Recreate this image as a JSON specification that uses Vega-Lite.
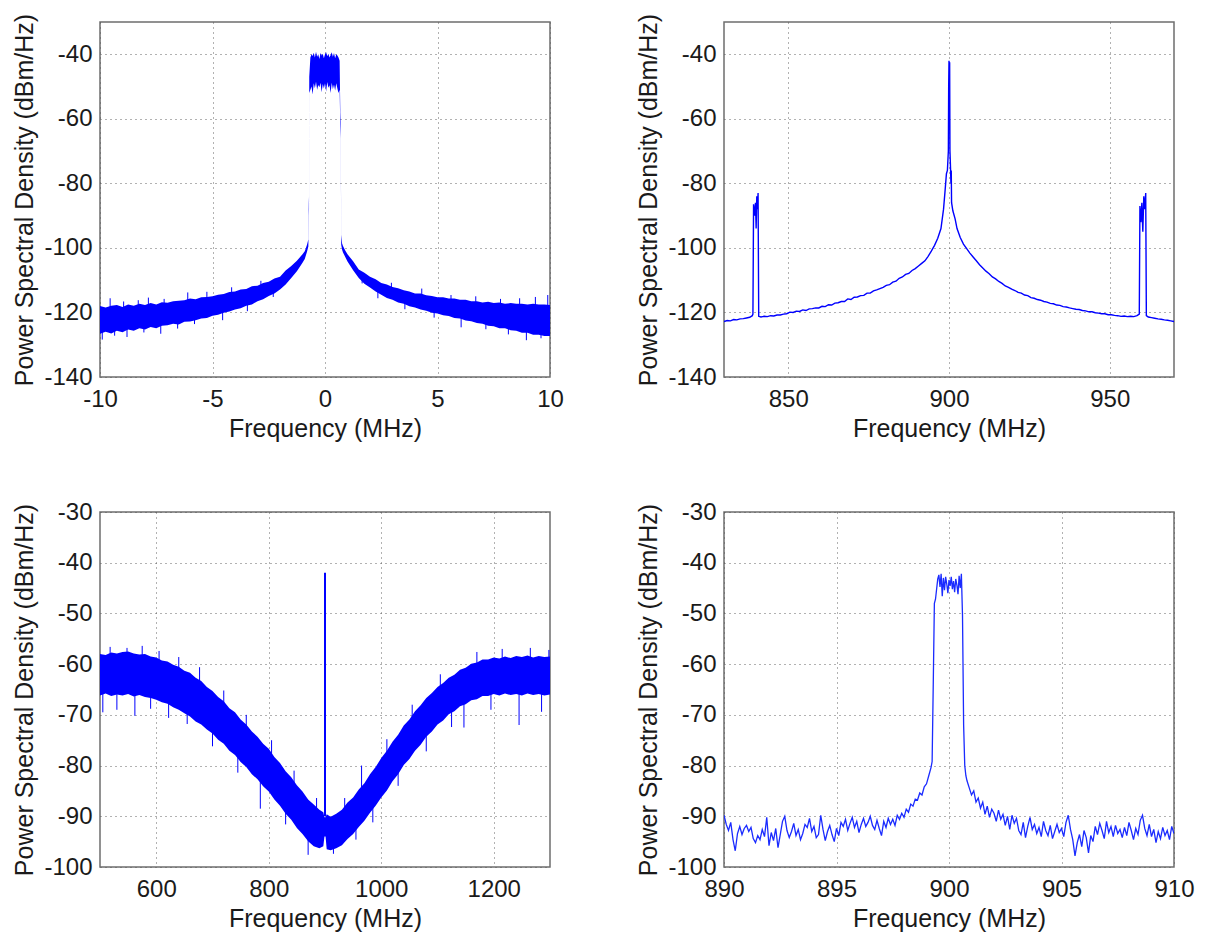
{
  "$schema": "https://vega.github.io/schema/vega-lite/v6.json",
  "background": "white",
  "padding": {"left": 12, "top": 12, "right": 0, "bottom": 0},
  "config": {
    "view": {"stroke": "#6e6e6e", "strokeWidth": 1.5},
    "axis": {
      "labelFont": "Liberation Sans", "labelFontSize": 24, "labelColor": "#1a1a1a",
      "titleFont": "Liberation Sans", "titleFontSize": 25, "titleFontWeight": "normal", "titleColor": "#1a1a1a",
      "grid": true, "gridColor": "#555555", "gridDash": [1, 4], "gridWidth": 1, "gridOpacity": 0.9,
      "domain": false, "ticks": false, "labelFlush": false, "labelOverlap": false,
      "labelExpr": "'' + datum.value"
    },
    "axisX": {"labelPadding": 10, "titlePadding": 5},
    "axisY": {"labelPadding": 8, "titlePadding": 6}
  },
  "columns": 2,
  "spacing": {"row": 135, "column": 174},
  "bounds": "flush",
  "datasets": {
    "tl": [
      {"f": -10.0, "lo": -126.6, "hi": -118.0}, {"f": -9.75, "lo": -126.0, "hi": -118.5}, {"f": -9.5, "lo": -126.5, "hi": -117.9},
      {"f": -9.25, "lo": -125.7, "hi": -117.7}, {"f": -9.0, "lo": -126.1, "hi": -118.3}, {"f": -8.75, "lo": -125.3, "hi": -117.5},
      {"f": -8.5, "lo": -125.7, "hi": -117.9}, {"f": -8.25, "lo": -124.9, "hi": -117.3}, {"f": -8.0, "lo": -125.3, "hi": -117.7},
      {"f": -7.75, "lo": -124.5, "hi": -117.1}, {"f": -7.5, "lo": -124.9, "hi": -117.5}, {"f": -7.25, "lo": -124.1, "hi": -116.8},
      {"f": -7.0, "lo": -124.0, "hi": -117.0}, {"f": -6.75, "lo": -123.5, "hi": -116.5}, {"f": -6.5, "lo": -123.7, "hi": -116.4},
      {"f": -6.25, "lo": -122.9, "hi": -116.2}, {"f": -6.0, "lo": -122.8, "hi": -115.7}, {"f": -5.75, "lo": -122.4, "hi": -115.9},
      {"f": -5.5, "lo": -121.9, "hi": -115.3}, {"f": -5.25, "lo": -121.7, "hi": -115.2}, {"f": -5.0, "lo": -121.0, "hi": -115.0},
      {"f": -4.75, "lo": -120.7, "hi": -114.5}, {"f": -4.5, "lo": -120.1, "hi": -114.3}, {"f": -4.25, "lo": -119.7, "hi": -113.7},
      {"f": -4.0, "lo": -119.1, "hi": -113.5}, {"f": -3.75, "lo": -118.7, "hi": -112.9}, {"f": -3.5, "lo": -117.9, "hi": -112.7},
      {"f": -3.25, "lo": -117.5, "hi": -111.9}, {"f": -3.0, "lo": -116.5, "hi": -111.7}, {"f": -2.75, "lo": -115.9, "hi": -110.9},
      {"f": -2.5, "lo": -114.9, "hi": -110.5}, {"f": -2.25, "lo": -114.1, "hi": -109.5}, {"f": -2.0, "lo": -112.9, "hi": -108.9},
      {"f": -1.75, "lo": -111.3, "hi": -107.0}, {"f": -1.5, "lo": -109.3, "hi": -105.6}, {"f": -1.25, "lo": -107.2, "hi": -104.0},
      {"f": -1.0, "lo": -104.6, "hi": -102.0}, {"f": -0.9, "lo": -103.4, "hi": -101.0}, {"f": -0.8, "lo": -101.2, "hi": -99.0},
      {"f": -0.74, "lo": -99.6, "hi": -97.4}, {"f": -0.72, "lo": -90.0, "hi": -86.0}, {"f": -0.71, "lo": -88.0, "hi": -84.0},
      {"f": -0.7, "lo": -52.0, "hi": -47.0}, {"f": -0.65, "lo": -51.0, "hi": -41.0}, {"f": -0.6, "lo": -50.0, "hi": -40.0},
      {"f": -0.55, "lo": -52.5, "hi": -40.5}, {"f": -0.5, "lo": -49.0, "hi": -39.5}, {"f": -0.45, "lo": -50.5, "hi": -41.0},
      {"f": -0.4, "lo": -48.5, "hi": -39.2}, {"f": -0.35, "lo": -51.0, "hi": -40.8}, {"f": -0.3, "lo": -49.5, "hi": -40.0},
      {"f": -0.25, "lo": -50.2, "hi": -41.5}, {"f": -0.2, "lo": -48.8, "hi": -39.6}, {"f": -0.15, "lo": -51.8, "hi": -40.4},
      {"f": -0.1, "lo": -49.2, "hi": -39.8}, {"f": -0.05, "lo": -50.6, "hi": -41.2}, {"f": 0.0, "lo": -49.0, "hi": -40.0},
      {"f": 0.05, "lo": -51.5, "hi": -39.4}, {"f": 0.1, "lo": -48.6, "hi": -40.6}, {"f": 0.15, "lo": -50.4, "hi": -39.8},
      {"f": 0.2, "lo": -49.6, "hi": -41.0}, {"f": 0.25, "lo": -52.0, "hi": -40.2}, {"f": 0.3, "lo": -48.8, "hi": -39.4},
      {"f": 0.35, "lo": -50.8, "hi": -40.8}, {"f": 0.4, "lo": -49.4, "hi": -39.6}, {"f": 0.45, "lo": -51.2, "hi": -41.2},
      {"f": 0.5, "lo": -49.0, "hi": -40.0}, {"f": 0.55, "lo": -50.6, "hi": -40.4}, {"f": 0.6, "lo": -52.0, "hi": -41.0},
      {"f": 0.65, "lo": -51.0, "hi": -42.0}, {"f": 0.68, "lo": -62.0, "hi": -58.0}, {"f": 0.7, "lo": -66.0, "hi": -61.0},
      {"f": 0.72, "lo": -99.0, "hi": -96.0}, {"f": 0.76, "lo": -100.6, "hi": -98.6}, {"f": 0.8, "lo": -101.4, "hi": -99.4},
      {"f": 0.9, "lo": -102.8, "hi": -100.8}, {"f": 1.0, "lo": -104.2, "hi": -102.0}, {"f": 1.25, "lo": -106.9, "hi": -104.1},
      {"f": 1.5, "lo": -109.3, "hi": -106.7}, {"f": 1.75, "lo": -111.1, "hi": -107.7}, {"f": 2.0, "lo": -112.3, "hi": -108.9},
      {"f": 2.25, "lo": -113.5, "hi": -109.7}, {"f": 2.5, "lo": -114.5, "hi": -110.9}, {"f": 2.75, "lo": -115.5, "hi": -111.3},
      {"f": 3.0, "lo": -116.1, "hi": -112.1}, {"f": 3.25, "lo": -116.9, "hi": -112.5}, {"f": 3.5, "lo": -117.3, "hi": -113.1},
      {"f": 3.75, "lo": -118.1, "hi": -113.5}, {"f": 4.0, "lo": -118.5, "hi": -114.1}, {"f": 4.25, "lo": -119.1, "hi": -114.1},
      {"f": 4.5, "lo": -119.5, "hi": -114.7}, {"f": 4.75, "lo": -120.1, "hi": -114.9}, {"f": 5.0, "lo": -120.3, "hi": -115.3},
      {"f": 5.25, "lo": -120.9, "hi": -115.3}, {"f": 5.5, "lo": -121.1, "hi": -115.7}, {"f": 5.75, "lo": -121.7, "hi": -115.7},
      {"f": 6.0, "lo": -121.9, "hi": -116.1}, {"f": 6.25, "lo": -122.5, "hi": -116.1}, {"f": 6.5, "lo": -122.7, "hi": -116.5},
      {"f": 6.75, "lo": -123.3, "hi": -116.5}, {"f": 7.0, "lo": -123.5, "hi": -116.9}, {"f": 7.25, "lo": -124.1, "hi": -116.7},
      {"f": 7.5, "lo": -124.3, "hi": -117.1}, {"f": 7.75, "lo": -124.9, "hi": -116.9}, {"f": 8.0, "lo": -124.9, "hi": -117.3},
      {"f": 8.25, "lo": -125.5, "hi": -117.1}, {"f": 8.5, "lo": -125.7, "hi": -117.3}, {"f": 8.75, "lo": -126.3, "hi": -117.3},
      {"f": 9.0, "lo": -126.3, "hi": -117.5}, {"f": 9.25, "lo": -126.9, "hi": -117.3}, {"f": 9.5, "lo": -126.9, "hi": -117.5},
      {"f": 9.75, "lo": -127.3, "hi": -117.5}, {"f": 10.0, "lo": -127.3, "hi": -117.7}
    ],
    "tlspk": [
      {"f": -9.9, "a": -124, "b": -128.4}, {"f": -9.55, "a": -120, "b": -115.6}, {"f": -9.35, "a": -124, "b": -127.2},
      {"f": -8.95, "a": -120, "b": -116.6}, {"f": -8.8, "a": -123, "b": -127.6}, {"f": -8.3, "a": -120, "b": -116.2},
      {"f": -8.05, "a": -123, "b": -126.2}, {"f": -7.85, "a": -120, "b": -115.4}, {"f": -7.3, "a": -122, "b": -126.6},
      {"f": -7.15, "a": -119, "b": -115.8}, {"f": -6.55, "a": -121, "b": -125.0}, {"f": -6.1, "a": -118, "b": -113.8},
      {"f": -5.8, "a": -120, "b": -123.6}, {"f": -5.25, "a": -117, "b": -113.6}, {"f": -4.55, "a": -119, "b": -122.4},
      {"f": -4.15, "a": -116, "b": -112.2}, {"f": -3.45, "a": -116, "b": -119.6}, {"f": -2.85, "a": -114, "b": -110.2},
      {"f": -2.3, "a": -112, "b": -115.2}, {"f": 1.65, "a": -108, "b": -111.0}, {"f": 2.35, "a": -111, "b": -115.6},
      {"f": 2.95, "a": -113, "b": -110.8}, {"f": 3.55, "a": -115, "b": -119.0}, {"f": 4.3, "a": -116, "b": -112.6},
      {"f": 4.85, "a": -118, "b": -121.6}, {"f": 5.6, "a": -118, "b": -114.6}, {"f": 6.05, "a": -120, "b": -124.6},
      {"f": 6.7, "a": -119, "b": -115.0}, {"f": 7.15, "a": -121, "b": -125.2}, {"f": 7.8, "a": -120, "b": -115.8},
      {"f": 8.15, "a": -122, "b": -126.8}, {"f": 8.65, "a": -121, "b": -115.6}, {"f": 8.95, "a": -123, "b": -128.6},
      {"f": 9.35, "a": -121, "b": -115.2}, {"f": 9.6, "a": -124, "b": -128.0}, {"f": 9.9, "a": -121, "b": -114.6}
    ],
    "tr": [
      {"f": 830, "v": -122.8}, {"f": 831, "v": -122.5}, {"f": 832, "v": -122.6}, {"f": 833, "v": -122.2}, {"f": 834, "v": -122.3},
      {"f": 835, "v": -122.0}, {"f": 836, "v": -121.9}, {"f": 837, "v": -121.7}, {"f": 838, "v": -121.5}, {"f": 838.8, "v": -121.0},
      {"f": 839.0, "v": -120.5}, {"f": 839.2, "v": -86.5}, {"f": 839.5, "v": -90}, {"f": 839.8, "v": -86}, {"f": 840.0, "v": -94},
      {"f": 840.2, "v": -84}, {"f": 840.4, "v": -88}, {"f": 840.6, "v": -83}, {"f": 840.8, "v": -121.2}, {"f": 841.5, "v": -121.4},
      {"f": 842.5, "v": -121.2}, {"f": 843.5, "v": -121.3}, {"f": 844.5, "v": -121.0}, {"f": 845.5, "v": -121.1}, {"f": 846.5, "v": -120.8},
      {"f": 847.5, "v": -120.8}, {"f": 848.5, "v": -120.5}, {"f": 849.5, "v": -120.4}, {"f": 850.5, "v": -119.9}, {"f": 851.5, "v": -120.0},
      {"f": 852.5, "v": -119.6}, {"f": 853.5, "v": -119.7}, {"f": 854.5, "v": -119.2}, {"f": 855.5, "v": -119.4}, {"f": 856.5, "v": -118.9},
      {"f": 857.5, "v": -118.8}, {"f": 858.5, "v": -118.6}, {"f": 859.5, "v": -118.6}, {"f": 860.5, "v": -118.1}, {"f": 861.5, "v": -118.2},
      {"f": 862.5, "v": -117.6}, {"f": 863.5, "v": -117.7}, {"f": 864.5, "v": -117.1}, {"f": 865.5, "v": -117.0}, {"f": 866.5, "v": -116.6},
      {"f": 867.5, "v": -116.6}, {"f": 868.5, "v": -115.8}, {"f": 869.5, "v": -116.0}, {"f": 870.5, "v": -115.3}, {"f": 871.5, "v": -115.2},
      {"f": 872.5, "v": -114.8}, {"f": 873.5, "v": -114.7}, {"f": 874.5, "v": -114.0}, {"f": 875.5, "v": -114.0}, {"f": 876.5, "v": -113.3},
      {"f": 877.5, "v": -113.0}, {"f": 878.5, "v": -112.6}, {"f": 879.5, "v": -112.2}, {"f": 880.5, "v": -111.6}, {"f": 881.5, "v": -111.4},
      {"f": 882.5, "v": -110.6}, {"f": 883.5, "v": -110.3}, {"f": 884.5, "v": -109.4}, {"f": 885.5, "v": -109.0}, {"f": 886.5, "v": -108.2},
      {"f": 887.5, "v": -107.9}, {"f": 888.5, "v": -107.0}, {"f": 889.5, "v": -106.4}, {"f": 890.5, "v": -105.6}, {"f": 891.5, "v": -104.8},
      {"f": 892.5, "v": -104.0}, {"f": 893.5, "v": -102.6}, {"f": 894.5, "v": -101.0}, {"f": 895.5, "v": -99.2}, {"f": 896.5, "v": -97.0},
      {"f": 897.5, "v": -94.0}, {"f": 898.3, "v": -88.0}, {"f": 898.8, "v": -82.0}, {"f": 899.2, "v": -77.0}, {"f": 899.5, "v": -76.0},
      {"f": 899.8, "v": -70}, {"f": 899.9, "v": -50}, {"f": 900.0, "v": -42}, {"f": 900.1, "v": -46}, {"f": 900.2, "v": -42.5},
      {"f": 900.3, "v": -70}, {"f": 900.5, "v": -76}, {"f": 900.6, "v": -80}, {"f": 900.7, "v": -76}, {"f": 900.8, "v": -86},
      {"f": 901.2, "v": -88.5}, {"f": 901.9, "v": -91}, {"f": 902.5, "v": -94.0}, {"f": 903.5, "v": -96.8}, {"f": 904.5, "v": -98.8},
      {"f": 905.5, "v": -100.2}, {"f": 906.5, "v": -101.6}, {"f": 907.5, "v": -102.8}, {"f": 908.5, "v": -104.0}, {"f": 909.5, "v": -105.2},
      {"f": 910.5, "v": -106.2}, {"f": 911.5, "v": -107.2}, {"f": 912.5, "v": -108.0}, {"f": 913.5, "v": -109.0}, {"f": 914.5, "v": -109.6},
      {"f": 915.5, "v": -110.4}, {"f": 916.5, "v": -111.0}, {"f": 917.5, "v": -111.8}, {"f": 918.5, "v": -112.2}, {"f": 919.5, "v": -112.8},
      {"f": 920.5, "v": -113.2}, {"f": 921.5, "v": -113.8}, {"f": 922.5, "v": -114.0}, {"f": 923.5, "v": -114.6}, {"f": 924.5, "v": -114.8},
      {"f": 925.5, "v": -115.4}, {"f": 926.5, "v": -115.6}, {"f": 927.5, "v": -116.0}, {"f": 928.5, "v": -116.2}, {"f": 929.5, "v": -116.6},
      {"f": 930.5, "v": -116.8}, {"f": 931.5, "v": -117.2}, {"f": 932.5, "v": -117.3}, {"f": 933.5, "v": -117.7}, {"f": 934.5, "v": -117.8},
      {"f": 935.5, "v": -118.2}, {"f": 936.5, "v": -118.3}, {"f": 937.5, "v": -118.6}, {"f": 938.5, "v": -118.8}, {"f": 939.5, "v": -119.0},
      {"f": 940.5, "v": -119.1}, {"f": 941.5, "v": -119.4}, {"f": 942.5, "v": -119.5}, {"f": 943.5, "v": -119.8}, {"f": 944.5, "v": -119.8},
      {"f": 945.5, "v": -120.1}, {"f": 946.5, "v": -120.2}, {"f": 947.5, "v": -120.4}, {"f": 948.5, "v": -120.4}, {"f": 949.5, "v": -120.7},
      {"f": 950.5, "v": -120.7}, {"f": 951.5, "v": -120.9}, {"f": 952.5, "v": -121.0}, {"f": 953.5, "v": -121.2}, {"f": 954.5, "v": -121.1},
      {"f": 955.5, "v": -121.3}, {"f": 956.5, "v": -121.2}, {"f": 957.5, "v": -121.3}, {"f": 958.5, "v": -121.0}, {"f": 959.2, "v": -120.5},
      {"f": 959.4, "v": -87}, {"f": 959.7, "v": -92}, {"f": 960.0, "v": -86}, {"f": 960.3, "v": -95}, {"f": 960.6, "v": -84},
      {"f": 960.9, "v": -88}, {"f": 961.2, "v": -83}, {"f": 961.4, "v": -121.0}, {"f": 962, "v": -121.4}, {"f": 963, "v": -121.6},
      {"f": 964, "v": -121.8}, {"f": 965, "v": -122.0}, {"f": 966, "v": -122.1}, {"f": 967, "v": -122.3}, {"f": 968, "v": -122.4},
      {"f": 969, "v": -122.6}, {"f": 970, "v": -122.8}
    ],
    "bl": [
      {"f": 500, "lo": -66.2, "hi": -58.0}, {"f": 510, "lo": -65.8, "hi": -58.2}, {"f": 520, "lo": -66.3, "hi": -57.7},
      {"f": 530, "lo": -66.0, "hi": -57.9}, {"f": 540, "lo": -66.2, "hi": -57.6}, {"f": 550, "lo": -65.9, "hi": -57.5},
      {"f": 560, "lo": -66.4, "hi": -57.9}, {"f": 570, "lo": -66.1, "hi": -58.1}, {"f": 580, "lo": -66.5, "hi": -58.0},
      {"f": 590, "lo": -66.7, "hi": -58.5}, {"f": 600, "lo": -67.0, "hi": -58.7}, {"f": 610, "lo": -67.5, "hi": -59.3},
      {"f": 620, "lo": -67.8, "hi": -59.5}, {"f": 630, "lo": -68.5, "hi": -60.1}, {"f": 640, "lo": -69.0, "hi": -60.5},
      {"f": 650, "lo": -69.7, "hi": -61.3}, {"f": 660, "lo": -70.3, "hi": -61.7}, {"f": 670, "lo": -71.3, "hi": -62.7},
      {"f": 680, "lo": -71.9, "hi": -63.3}, {"f": 690, "lo": -72.9, "hi": -64.5}, {"f": 700, "lo": -73.7, "hi": -65.3},
      {"f": 710, "lo": -74.9, "hi": -66.5}, {"f": 720, "lo": -75.7, "hi": -67.3}, {"f": 730, "lo": -77.1, "hi": -68.7},
      {"f": 740, "lo": -77.9, "hi": -69.5}, {"f": 750, "lo": -79.3, "hi": -70.9}, {"f": 760, "lo": -80.3, "hi": -71.9},
      {"f": 770, "lo": -81.7, "hi": -73.3}, {"f": 780, "lo": -82.7, "hi": -74.3}, {"f": 790, "lo": -84.1, "hi": -75.7},
      {"f": 800, "lo": -85.1, "hi": -76.7}, {"f": 810, "lo": -86.7, "hi": -78.3}, {"f": 820, "lo": -87.9, "hi": -79.5},
      {"f": 830, "lo": -89.5, "hi": -81.1}, {"f": 840, "lo": -90.7, "hi": -82.3}, {"f": 850, "lo": -92.3, "hi": -83.9},
      {"f": 860, "lo": -93.5, "hi": -85.1}, {"f": 870, "lo": -94.9, "hi": -86.7}, {"f": 880, "lo": -95.9, "hi": -87.7},
      {"f": 890, "lo": -96.3, "hi": -88.7}, {"f": 897, "lo": -95.9, "hi": -89.2}, {"f": 899, "lo": -94.0, "hi": -90.2},
      {"f": 901, "lo": -94.0, "hi": -90.2}, {"f": 903, "lo": -96.5, "hi": -89.6}, {"f": 910, "lo": -96.7, "hi": -90.1},
      {"f": 920, "lo": -96.3, "hi": -89.5}, {"f": 930, "lo": -95.7, "hi": -88.7}, {"f": 940, "lo": -94.5, "hi": -87.3},
      {"f": 950, "lo": -93.5, "hi": -86.3}, {"f": 960, "lo": -92.1, "hi": -84.7}, {"f": 970, "lo": -90.9, "hi": -83.5},
      {"f": 980, "lo": -89.3, "hi": -81.7}, {"f": 990, "lo": -87.9, "hi": -80.3}, {"f": 1000, "lo": -86.3, "hi": -78.5},
      {"f": 1010, "lo": -84.9, "hi": -77.1}, {"f": 1020, "lo": -83.1, "hi": -75.3}, {"f": 1030, "lo": -81.7, "hi": -73.9},
      {"f": 1040, "lo": -79.9, "hi": -72.1}, {"f": 1050, "lo": -78.7, "hi": -70.9}, {"f": 1060, "lo": -77.1, "hi": -69.3},
      {"f": 1070, "lo": -75.9, "hi": -68.1}, {"f": 1080, "lo": -74.3, "hi": -66.7}, {"f": 1090, "lo": -73.3, "hi": -65.7},
      {"f": 1100, "lo": -71.9, "hi": -64.5}, {"f": 1110, "lo": -71.1, "hi": -63.7}, {"f": 1120, "lo": -69.9, "hi": -62.7},
      {"f": 1130, "lo": -69.3, "hi": -62.1}, {"f": 1140, "lo": -68.3, "hi": -61.1}, {"f": 1150, "lo": -67.9, "hi": -60.7},
      {"f": 1160, "lo": -67.1, "hi": -59.9}, {"f": 1170, "lo": -66.9, "hi": -59.7}, {"f": 1180, "lo": -66.3, "hi": -59.1},
      {"f": 1190, "lo": -66.3, "hi": -59.1}, {"f": 1200, "lo": -65.9, "hi": -58.7}, {"f": 1210, "lo": -66.2, "hi": -58.9},
      {"f": 1220, "lo": -65.8, "hi": -58.5}, {"f": 1230, "lo": -66.1, "hi": -58.8}, {"f": 1240, "lo": -65.9, "hi": -58.4},
      {"f": 1250, "lo": -66.2, "hi": -58.6}, {"f": 1260, "lo": -65.8, "hi": -58.3}, {"f": 1270, "lo": -66.1, "hi": -58.7},
      {"f": 1280, "lo": -65.9, "hi": -58.4}, {"f": 1290, "lo": -66.2, "hi": -58.6}, {"f": 1300, "lo": -66.0, "hi": -58.5}
    ],
    "blspk": [
      {"f": 505, "a": -63, "b": -69.5}, {"f": 518, "a": -60, "b": -56.6}, {"f": 530, "a": -64, "b": -69.0},
      {"f": 548, "a": -60, "b": -56.8}, {"f": 562, "a": -64, "b": -70.2}, {"f": 575, "a": -60, "b": -56.4},
      {"f": 590, "a": -64, "b": -68.8}, {"f": 605, "a": -61, "b": -57.4}, {"f": 622, "a": -65, "b": -70.6},
      {"f": 640, "a": -62, "b": -58.6}, {"f": 655, "a": -67, "b": -71.8}, {"f": 677, "a": -64, "b": -60.6},
      {"f": 700, "a": -71, "b": -76.2}, {"f": 720, "a": -69, "b": -65.2}, {"f": 745, "a": -76, "b": -81.4},
      {"f": 760, "a": -74, "b": -70.0}, {"f": 785, "a": -80, "b": -88.5}, {"f": 805, "a": -79, "b": -75.0},
      {"f": 830, "a": -87, "b": -91.6}, {"f": 845, "a": -86, "b": -81.0}, {"f": 870, "a": -92, "b": -97.6},
      {"f": 885, "a": -90, "b": -86.4}, {"f": 915, "a": -93, "b": -97.4}, {"f": 935, "a": -91, "b": -86.4},
      {"f": 955, "a": -90, "b": -94.6}, {"f": 965, "a": -87, "b": -80.0}, {"f": 985, "a": -87, "b": -91.2},
      {"f": 1010, "a": -79, "b": -74.8}, {"f": 1030, "a": -79, "b": -84.0}, {"f": 1055, "a": -72, "b": -68.0},
      {"f": 1080, "a": -72, "b": -77.2}, {"f": 1105, "a": -66, "b": -62.0}, {"f": 1125, "a": -68, "b": -72.4},
      {"f": 1147, "a": -64, "b": -72.5}, {"f": 1170, "a": -62, "b": -57.6}, {"f": 1195, "a": -64, "b": -69.0},
      {"f": 1215, "a": -61, "b": -57.0}, {"f": 1245, "a": -64, "b": -72.0}, {"f": 1265, "a": -61, "b": -56.8},
      {"f": 1285, "a": -64, "b": -69.4}, {"f": 1298, "a": -61, "b": -57.2}
    ],
    "blmain": [
      {"f": 900, "a": -90, "b": -42}
    ],
    "br": [
      {"f": 890.0, "v": -89.8}, {"f": 890.1, "v": -91.6}, {"f": 890.2, "v": -92.8}, {"f": 890.3, "v": -91.2}, {"f": 890.4, "v": -94.6},
      {"f": 890.5, "v": -96.8}, {"f": 890.6, "v": -93.4}, {"f": 890.7, "v": -92.0}, {"f": 890.8, "v": -93.6}, {"f": 890.9, "v": -92.4},
      {"f": 891.0, "v": -91.8}, {"f": 891.1, "v": -93.0}, {"f": 891.2, "v": -92.2}, {"f": 891.3, "v": -94.4}, {"f": 891.4, "v": -95.2},
      {"f": 891.5, "v": -93.8}, {"f": 891.6, "v": -94.6}, {"f": 891.7, "v": -92.6}, {"f": 891.8, "v": -94.0}, {"f": 891.9, "v": -90.2},
      {"f": 892.0, "v": -95.8}, {"f": 892.1, "v": -93.2}, {"f": 892.2, "v": -94.8}, {"f": 892.3, "v": -92.4}, {"f": 892.4, "v": -96.2},
      {"f": 892.5, "v": -93.6}, {"f": 892.6, "v": -91.0}, {"f": 892.7, "v": -90.0}, {"f": 892.8, "v": -92.8}, {"f": 892.9, "v": -94.2},
      {"f": 893.0, "v": -93.0}, {"f": 893.1, "v": -91.4}, {"f": 893.2, "v": -93.8}, {"f": 893.3, "v": -92.6}, {"f": 893.4, "v": -94.6},
      {"f": 893.5, "v": -93.4}, {"f": 893.6, "v": -91.6}, {"f": 893.7, "v": -92.2}, {"f": 893.8, "v": -90.4}, {"f": 893.9, "v": -93.0},
      {"f": 894.0, "v": -92.0}, {"f": 894.1, "v": -94.2}, {"f": 894.2, "v": -93.6}, {"f": 894.3, "v": -89.8}, {"f": 894.4, "v": -92.6},
      {"f": 894.5, "v": -94.8}, {"f": 894.6, "v": -93.0}, {"f": 894.7, "v": -91.8}, {"f": 894.8, "v": -93.6}, {"f": 894.9, "v": -95.0},
      {"f": 895.0, "v": -92.4}, {"f": 895.1, "v": -93.8}, {"f": 895.2, "v": -91.2}, {"f": 895.3, "v": -92.0}, {"f": 895.4, "v": -90.6},
      {"f": 895.5, "v": -92.8}, {"f": 895.6, "v": -91.4}, {"f": 895.7, "v": -90.2}, {"f": 895.8, "v": -92.2}, {"f": 895.9, "v": -91.0},
      {"f": 896.0, "v": -93.2}, {"f": 896.1, "v": -91.6}, {"f": 896.2, "v": -90.4}, {"f": 896.3, "v": -92.0}, {"f": 896.4, "v": -91.2},
      {"f": 896.5, "v": -90.0}, {"f": 896.6, "v": -91.8}, {"f": 896.7, "v": -92.6}, {"f": 896.8, "v": -90.8}, {"f": 896.9, "v": -92.4},
      {"f": 897.0, "v": -93.8}, {"f": 897.1, "v": -91.0}, {"f": 897.2, "v": -92.2}, {"f": 897.3, "v": -90.4}, {"f": 897.4, "v": -91.6},
      {"f": 897.5, "v": -90.6}, {"f": 897.6, "v": -91.8}, {"f": 897.7, "v": -89.8}, {"f": 897.8, "v": -90.6}, {"f": 897.9, "v": -89.4},
      {"f": 898.0, "v": -90.2}, {"f": 898.1, "v": -88.6}, {"f": 898.2, "v": -89.2}, {"f": 898.3, "v": -87.6}, {"f": 898.4, "v": -88.0},
      {"f": 898.5, "v": -86.6}, {"f": 898.6, "v": -86.8}, {"f": 898.7, "v": -85.4}, {"f": 898.8, "v": -85.8}, {"f": 898.9, "v": -84.2},
      {"f": 899.0, "v": -83.6}, {"f": 899.1, "v": -82.0}, {"f": 899.2, "v": -80.4}, {"f": 899.25, "v": -79.2}, {"f": 899.3, "v": -64.0},
      {"f": 899.35, "v": -48.0}, {"f": 899.4, "v": -47.2}, {"f": 899.5, "v": -43.2}, {"f": 899.55, "v": -42.4}, {"f": 899.6, "v": -44.8},
      {"f": 899.65, "v": -42.2}, {"f": 899.7, "v": -46.6}, {"f": 899.75, "v": -43.0}, {"f": 899.8, "v": -45.4}, {"f": 899.85, "v": -42.8},
      {"f": 899.9, "v": -44.2}, {"f": 899.95, "v": -46.0}, {"f": 900.0, "v": -43.4}, {"f": 900.05, "v": -44.6}, {"f": 900.1, "v": -42.8},
      {"f": 900.15, "v": -45.2}, {"f": 900.2, "v": -43.6}, {"f": 900.25, "v": -45.8}, {"f": 900.3, "v": -43.2}, {"f": 900.35, "v": -44.4},
      {"f": 900.4, "v": -46.2}, {"f": 900.45, "v": -42.6}, {"f": 900.5, "v": -45.0}, {"f": 900.55, "v": -42.2}, {"f": 900.6, "v": -50.4},
      {"f": 900.65, "v": -72.0}, {"f": 900.7, "v": -80.0}, {"f": 900.75, "v": -82.0}, {"f": 900.8, "v": -83.0}, {"f": 900.9, "v": -84.4},
      {"f": 901.0, "v": -85.8}, {"f": 901.1, "v": -85.0}, {"f": 901.2, "v": -87.2}, {"f": 901.3, "v": -86.4}, {"f": 901.4, "v": -88.4},
      {"f": 901.5, "v": -87.2}, {"f": 901.6, "v": -89.6}, {"f": 901.7, "v": -88.0}, {"f": 901.8, "v": -90.2}, {"f": 901.9, "v": -88.6},
      {"f": 902.0, "v": -89.4}, {"f": 902.1, "v": -91.0}, {"f": 902.2, "v": -88.8}, {"f": 902.3, "v": -90.6}, {"f": 902.4, "v": -89.6},
      {"f": 902.5, "v": -91.8}, {"f": 902.6, "v": -90.0}, {"f": 902.7, "v": -92.6}, {"f": 902.8, "v": -89.8}, {"f": 902.9, "v": -91.4},
      {"f": 903.0, "v": -90.4}, {"f": 903.1, "v": -92.8}, {"f": 903.2, "v": -93.6}, {"f": 903.3, "v": -91.2}, {"f": 903.4, "v": -94.2},
      {"f": 903.5, "v": -92.0}, {"f": 903.6, "v": -90.2}, {"f": 903.7, "v": -92.6}, {"f": 903.8, "v": -91.6}, {"f": 903.9, "v": -93.4},
      {"f": 904.0, "v": -92.2}, {"f": 904.1, "v": -94.0}, {"f": 904.2, "v": -91.0}, {"f": 904.3, "v": -92.8}, {"f": 904.4, "v": -93.8},
      {"f": 904.5, "v": -91.8}, {"f": 904.6, "v": -94.4}, {"f": 904.7, "v": -93.0}, {"f": 904.8, "v": -91.6}, {"f": 904.9, "v": -93.2},
      {"f": 905.0, "v": -92.4}, {"f": 905.1, "v": -94.0}, {"f": 905.2, "v": -91.2}, {"f": 905.3, "v": -89.8}, {"f": 905.4, "v": -92.6},
      {"f": 905.5, "v": -94.6}, {"f": 905.6, "v": -97.8}, {"f": 905.7, "v": -95.2}, {"f": 905.8, "v": -93.6}, {"f": 905.9, "v": -96.0},
      {"f": 906.0, "v": -92.8}, {"f": 906.1, "v": -94.2}, {"f": 906.2, "v": -97.2}, {"f": 906.3, "v": -93.8}, {"f": 906.4, "v": -95.0},
      {"f": 906.5, "v": -92.0}, {"f": 906.6, "v": -93.6}, {"f": 906.7, "v": -91.4}, {"f": 906.8, "v": -92.8}, {"f": 906.9, "v": -94.4},
      {"f": 907.0, "v": -91.0}, {"f": 907.1, "v": -93.2}, {"f": 907.2, "v": -92.0}, {"f": 907.3, "v": -94.0}, {"f": 907.4, "v": -91.8},
      {"f": 907.5, "v": -93.4}, {"f": 907.6, "v": -92.6}, {"f": 907.7, "v": -94.2}, {"f": 907.8, "v": -92.2}, {"f": 907.9, "v": -93.8},
      {"f": 908.0, "v": -91.2}, {"f": 908.1, "v": -92.8}, {"f": 908.2, "v": -94.6}, {"f": 908.3, "v": -92.4}, {"f": 908.4, "v": -93.6},
      {"f": 908.5, "v": -90.8}, {"f": 908.6, "v": -89.8}, {"f": 908.7, "v": -92.4}, {"f": 908.8, "v": -93.8}, {"f": 908.9, "v": -91.6},
      {"f": 909.0, "v": -94.0}, {"f": 909.1, "v": -92.6}, {"f": 909.2, "v": -95.2}, {"f": 909.3, "v": -93.0}, {"f": 909.4, "v": -94.4},
      {"f": 909.5, "v": -92.2}, {"f": 909.6, "v": -93.8}, {"f": 909.7, "v": -92.8}, {"f": 909.8, "v": -94.6}, {"f": 909.9, "v": -92.0},
      {"f": 910.0, "v": -93.4}
    ]
  },
  "concat": [
    {
      "width": 450, "height": 355,
      "layer": [
        {
          "data": {"name": "tl"},
          "mark": {"type": "area", "color": "#0000ff", "clip": true},
          "encoding": {
            "x": {"field": "f", "type": "quantitative", "scale": {"domain": [-10, 10], "nice": false, "zero": false},
                  "axis": {"values": [-10, -5, 0, 5, 10], "title": "Frequency (MHz)"}},
            "y": {"field": "lo", "type": "quantitative", "scale": {"domain": [-140, -30], "nice": false, "zero": false},
                  "axis": {"values": [-140, -120, -100, -80, -60, -40], "title": "Power Spectral Density (dBm/Hz)"}},
            "y2": {"field": "hi"}
          }
        },
        {
          "data": {"name": "tlspk"},
          "mark": {"type": "rule", "color": "#0000ff", "strokeWidth": 1, "clip": true},
          "encoding": {
            "x": {"field": "f", "type": "quantitative"},
            "y": {"field": "a", "type": "quantitative"},
            "y2": {"field": "b"}
          }
        }
      ]
    },
    {
      "width": 450, "height": 355,
      "data": {"name": "tr"},
      "mark": {"type": "line", "color": "#0000ff", "strokeWidth": 1.4, "clip": true},
      "encoding": {
        "x": {"field": "f", "type": "quantitative", "scale": {"domain": [830, 970], "nice": false, "zero": false},
              "axis": {"values": [850, 900, 950], "title": "Frequency (MHz)"}},
        "y": {"field": "v", "type": "quantitative", "scale": {"domain": [-140, -30], "nice": false, "zero": false},
              "axis": {"values": [-140, -120, -100, -80, -60, -40], "title": "Power Spectral Density (dBm/Hz)"}}
      }
    },
    {
      "width": 450, "height": 355,
      "layer": [
        {
          "data": {"name": "bl"},
          "mark": {"type": "area", "color": "#0000ff", "clip": true},
          "encoding": {
            "x": {"field": "f", "type": "quantitative", "scale": {"domain": [500, 1300], "nice": false, "zero": false},
                  "axis": {"values": [600, 800, 1000, 1200], "title": "Frequency (MHz)"}},
            "y": {"field": "lo", "type": "quantitative", "scale": {"domain": [-100, -30], "nice": false, "zero": false},
                  "axis": {"values": [-100, -90, -80, -70, -60, -50, -40, -30], "title": "Power Spectral Density (dBm/Hz)"}},
            "y2": {"field": "hi"}
          }
        },
        {
          "data": {"name": "blspk"},
          "mark": {"type": "rule", "color": "#0000ff", "strokeWidth": 1, "clip": true},
          "encoding": {
            "x": {"field": "f", "type": "quantitative"},
            "y": {"field": "a", "type": "quantitative"},
            "y2": {"field": "b"}
          }
        },
        {
          "data": {"name": "blmain"},
          "mark": {"type": "rule", "color": "#0000ff", "strokeWidth": 2, "clip": true},
          "encoding": {
            "x": {"field": "f", "type": "quantitative"},
            "y": {"field": "a", "type": "quantitative"},
            "y2": {"field": "b"}
          }
        }
      ]
    },
    {
      "width": 450, "height": 355,
      "data": {"name": "br"},
      "mark": {"type": "line", "color": "#1a2bff", "strokeWidth": 1.3, "clip": true},
      "encoding": {
        "x": {"field": "f", "type": "quantitative", "scale": {"domain": [890, 910], "nice": false, "zero": false},
              "axis": {"values": [890, 895, 900, 905, 910], "title": "Frequency (MHz)"}},
        "y": {"field": "v", "type": "quantitative", "scale": {"domain": [-100, -30], "nice": false, "zero": false},
              "axis": {"values": [-100, -90, -80, -70, -60, -50, -40, -30], "title": "Power Spectral Density (dBm/Hz)"}}
      }
    }
  ]
}
